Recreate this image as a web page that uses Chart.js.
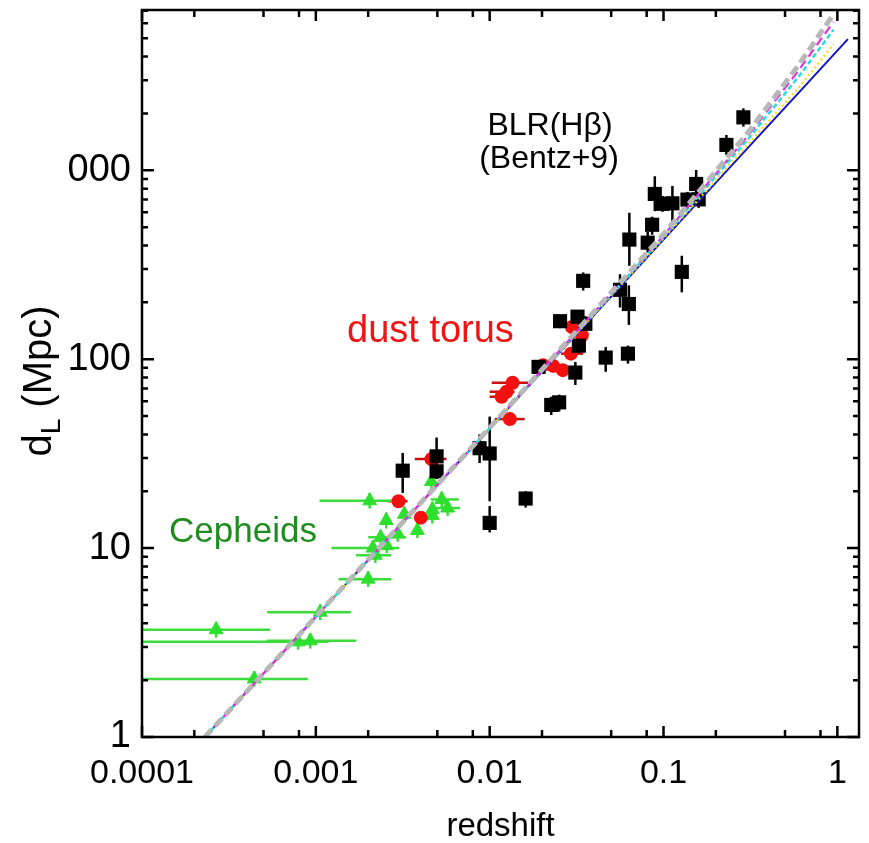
<!DOCTYPE html>
<html>
<head>
<meta charset="utf-8">
<script src="https://cdn.jsdelivr.net/npm/chart.js@4.4.1/dist/chart.umd.min.js"></script>
<style>
  body { margin: 0; background: #fff; }
  canvas { display: block; }
</style>
</head>
<body>
<canvas id="dlChart" width="869" height="843"></canvas>
<script>
// axis ticks
const xTickVals = [0.0001, 0.001, 0.01, 0.1, 1];
const xTickLabels = ['0.0001', '0.001', '0.01', '0.1', '1'];
const yTickVals = [1, 10, 100, 1000];
const yTickLabels = ['1', '10', '100', '000'];

// BLR (Hbeta) reverberation distances
const blrZ = [0.00316, 0.00495, 0.00495, 0.00875, 0.0100, 0.0100, 0.0161, 0.0191, 0.0226, 0.0251, 0.0254, 0.0320, 0.0355, 0.0326, 0.0311, 0.0345, 0.0465, 0.0562, 0.0624, 0.0636, 0.0632, 0.0811, 0.0860, 0.0891, 0.0987, 0.1125, 0.1274, 0.1373, 0.1541, 0.1593, 0.230, 0.288];
const blrD = [25.7, 30.6, 25.5, 33.8, 31.7, 13.6, 18.3, 91.1, 57.3, 59.1, 159, 168, 154, 118, 85.0, 260, 102, 233, 107, 430, 196, 414, 515, 750, 665, 669, 290, 700, 847, 702, 1363, 1908];
const blrDLo = [19.6, 26.2, 23.2, 28.2, 17.7, 12.1, 16.4, 85.8, 50.7, 52.8, 146, 153, 139, 107, 73.0, 231, 85.8, 188, 94.8, 312, 152, 367, 456, 608, 603, 539, 226, 633, 730, 633, 1208, 1705];
const blrDHi = [31.9, 38.5, 28.1, 40.0, 49.7, 16.7, 20.0, 96.8, 63.3, 64.9, 171, 182, 169, 131, 96.8, 288, 116, 282, 118, 596, 246, 472, 568, 930, 732, 827, 353, 769, 1004, 778, 1539, 2128];

// dust torus
const torusZ = [0.00299, 0.00402, 0.00462, 0.01172, 0.01251, 0.01354, 0.01307, 0.02025, 0.02318, 0.02633, 0.02935, 0.02973, 0.0339];
const torusD = [17.7, 14.5, 29.6, 63.3, 67.3, 75.0, 48.2, 93.0, 92.2, 87.5, 107, 148, 134];
const torusZLo = [0.00259, null, 0.00371, 0.0100, 0.0100, 0.01028, 0.0107, 0.01855, null, null, 0.02574, null, null];
const torusZHi = [0.00337, null, 0.00565, 0.01285, 0.0139, 0.0166, 0.0159, 0.02258, null, null, 0.0345, null, null];

// Cepheids
const cephZ = [0.000267, 0.000442, 0.000790, 0.000929, 0.00106, 0.00200, 0.00204, 0.00213, 0.00220, 0.00236, 0.00254, 0.00256, 0.00296, 0.00323, 0.00384, 0.00462, 0.00468, 0.00468, 0.00530, 0.00573];
const cephD = [3.70, 2.03, 3.19, 3.23, 4.58, 6.85, 17.8, 10.0, 9.17, 11.4, 14.0, 10.3, 11.9, 15.1, 12.4, 22.5, 16.0, 14.9, 18.1, 16.3];
const cephZLo = [0.00005, 0.00005, 0.00005, 0.000524, 0.000525, 0.00135, 0.00105, 0.00123, 0.00170, 0.00200, null, null, null, null, null, null, null, null, 0.00458, 0.00480];
const cephZHi = [0.000545, 0.000900, 0.00118, 0.00171, 0.00159, 0.00271, 0.00284, 0.00302, 0.00271, 0.00330, null, null, null, null, null, null, null, null, 0.00664, 0.00676];
const cephDLo = [3.36, 1.85, 2.90, 2.94, 4.16, 6.23, 16.2, 9.1, 8.34, 10.4, 12.7, 9.4, 10.8, 13.7, 11.3, 20.5, 14.5, 13.5, 16.5, 14.8];
const cephDHi = [4.07, 2.23, 3.51, 3.55, 5.04, 7.54, 19.6, 11.0, 10.1, 12.5, 15.4, 11.3, 13.1, 16.6, 13.6, 24.8, 17.6, 16.4, 19.9, 17.9];

// cosmological model curves
const modelZ = [0.00023, 0.01, 0.1, 0.3, 0.6, 0.95];
const blueZ = [0.00023, 0.01, 0.1, 0.3, 0.6, 1.15];
const blueD = [1, 43, 430, 1290, 2580, 4950];
const yellowD = [1, 43, 436, 1344, 2740, 4650];
const cyanD = [1, 43, 445, 1430, 3140, 5550];
const magentaD = [1, 43.2, 452, 1490, 3390, 6110];
const grayD = [1, 43.3, 459, 1550, 3620, 6700];

const FONT = '"Liberation Sans", Arial, Helvetica, sans-serif';

function pts(xs, ys) {
    return xs.map((v, i) => ({ x: v, y: ys[i] }));
}

function modelLine(xs, ys, color, width, dash) {
    return {
        data: pts(xs, ys),
        showLine: true,
        borderColor: color,
        borderWidth: width,
        borderDash: dash,
        pointRadius: 0,
        fill: false,
        order: 0
    };
}

// keep the plot box fixed: no extra room for tick label overhang
function fixBox(scale) {
    scale.paddingTop = 0;
    scale.paddingBottom = 0;
    scale.paddingLeft = 0;
    scale.paddingRight = 0;
}

// error bars, drawn under the markers
const errorBars = {
    id: 'errorBars',
    beforeDatasetsDraw(chart) {
        const { ctx, chartArea: a, scales: { x, y } } = chart;
        ctx.save();
        ctx.beginPath();
        ctx.rect(a.left, a.top, a.right - a.left, a.bottom - a.top);
        ctx.clip();
        function seg(x1, y1, x2, y2, color, w) {
            ctx.strokeStyle = color;
            ctx.lineWidth = w;
            ctx.beginPath();
            ctx.moveTo(x1, y1);
            ctx.lineTo(x2, y2);
            ctx.stroke();
        }
        // black: vertical
        blrZ.forEach((z, i) => {
            const px = x.getPixelForValue(z);
            seg(px, y.getPixelForValue(blrDLo[i]), px, y.getPixelForValue(blrDHi[i]), '#000', 2.5);
        });
        // red: horizontal
        torusZ.forEach((z, i) => {
            if (torusZLo[i] === null) return;
            const py = y.getPixelForValue(torusD[i]);
            seg(x.getPixelForValue(torusZLo[i]), py, x.getPixelForValue(torusZHi[i]), py, '#c81010', 2.5);
        });
        // green: both
        cephZ.forEach((z, i) => {
            const px = x.getPixelForValue(z);
            const py = y.getPixelForValue(cephD[i]);
            if (cephZLo[i] !== null) {
                seg(x.getPixelForValue(cephZLo[i]), py, x.getPixelForValue(cephZHi[i]), py, '#3ddc3d', 2.5);
            }
            seg(px, y.getPixelForValue(cephDLo[i]), px, y.getPixelForValue(cephDHi[i]), '#3ddc3d', 2.5);
        });
        ctx.restore();
    }
};

// frame, inward ticks and text labels
const frameAndText = {
    id: 'frameAndText',
    afterDraw(chart) {
        const { ctx, chartArea: a, scales: { x, y } } = chart;
        ctx.save();
        ctx.strokeStyle = '#000';
        ctx.lineWidth = 2.5;
        ctx.strokeRect(a.left, a.top, a.right - a.left, a.bottom - a.top);

        // x ticks: majors and 2,5,8
        for (let e = -4; e <= 0; e++) {
            [1, 2, 5, 8].forEach(m => {
                const v = m * Math.pow(10, e);
                if (v > x.max) return;
                const px = x.getPixelForValue(v);
                const len = m === 1 ? 11 : 7;
                ctx.beginPath();
                ctx.moveTo(px, a.bottom); ctx.lineTo(px, a.bottom - len);
                ctx.moveTo(px, a.top); ctx.lineTo(px, a.top + len);
                ctx.stroke();
            });
        }
        // y ticks: majors and all minors
        for (let e = 0; e <= 3; e++) {
            for (let m = 1; m <= 9; m++) {
                const v = m * Math.pow(10, e);
                if (v > y.max) continue;
                const py = y.getPixelForValue(v);
                const len = m === 1 ? 12 : 6;
                ctx.beginPath();
                ctx.moveTo(a.left, py); ctx.lineTo(a.left + len, py);
                ctx.moveTo(a.right, py); ctx.lineTo(a.right - len, py);
                ctx.stroke();
            }
        }

        // y axis title with subscript
        ctx.translate(37, 381);
        ctx.rotate(-Math.PI / 2);
        ctx.fillStyle = '#000';
        ctx.textBaseline = 'alphabetic';
        ctx.textAlign = 'left';
        const big = '40px ' + FONT, small = '28px ' + FONT;
        ctx.font = big; const w1 = ctx.measureText('d').width;
        ctx.font = small; const w2 = ctx.measureText('L').width;
        ctx.font = big; const w3 = ctx.measureText(' (Mpc)').width;
        let sx = -(w1 + w2 + w3) / 2;
        const base = 14;
        ctx.font = big; ctx.fillText('d', sx, base); sx += w1;
        ctx.font = small; ctx.fillText('L', sx, base + 9); sx += w2;
        ctx.font = big; ctx.fillText(' (Mpc)', sx, base);
        ctx.restore();

        // annotations
        ctx.save();
        ctx.textBaseline = 'alphabetic';
        ctx.fillStyle = '#000';
        ctx.font = '32px ' + FONT;
        ctx.textAlign = 'center';
        ctx.fillText('BLR(H\u03B2)', 550, 135);
        ctx.fillText('(Bentz+9)', 549, 168);
        ctx.textAlign = 'left';
        ctx.fillStyle = '#f21414';
        ctx.font = '38px ' + FONT;
        ctx.fillText('dust torus', 347, 342);
        ctx.fillStyle = '#1f8c1f';
        ctx.font = '35px ' + FONT;
        ctx.fillText('Cepheids', 169, 542);
        ctx.restore();
    }
};

const config = {
    type: 'scatter',
    data: {
        datasets: [
            // model curves on top
            modelLine(modelZ, grayD, '#b8b8b8', 5, [10, 5]),
            modelLine(modelZ, magentaD, '#e030e0', 2.2, [9, 5]),
            modelLine(modelZ, cyanD, '#28dcdc', 2.5, [5, 3]),
            modelLine(modelZ, yellowD, '#f0e000', 2.2, [2, 3]),
            modelLine(blueZ, blueD, '#1414d0', 2, []),
            {
                data: pts(cephZ, cephD),
                pointStyle: 'triangle',
                pointRadius: 8,
                backgroundColor: '#2ee02e',
                borderColor: '#2ee02e',
                borderWidth: 1,
                order: 3
            },
            {
                data: pts(torusZ, torusD),
                pointStyle: 'circle',
                pointRadius: 7,
                backgroundColor: '#f21010',
                borderColor: '#f21010',
                borderWidth: 0,
                order: 2
            },
            {
                data: pts(blrZ, blrD),
                pointStyle: 'rect',
                pointRadius: 10,
                backgroundColor: '#000',
                borderColor: '#000',
                borderWidth: 0,
                order: 1
            }
        ]
    },
    options: {
        responsive: false,
        devicePixelRatio: 1,
        animation: false,
        layout: { padding: { top: 6, right: 3, left: 0, bottom: 0 } },
        plugins: { legend: { display: false }, tooltip: { enabled: false } },
        scales: {
            x: {
                type: 'logarithmic',
                min: 0.0001,
                max: 1.332,
                grid: { display: false, drawTicks: false },
                border: { display: false },
                afterBuildTicks: (scale) => { scale.ticks = xTickVals.map(v => ({ value: v })); },
                afterFit: (scale) => { scale.height = 106; fixBox(scale); },
                ticks: {
                    autoSkip: false,
                    maxRotation: 0,
                    padding: 20,
                    color: '#000',
                    font: { family: FONT, size: 34, lineHeight: 1 },
                    callback: (v, i) => xTickLabels[i]
                },
                title: {
                    display: true,
                    text: 'redshift',
                    color: '#000',
                    padding: { top: 0, bottom: 0 },
                    font: { family: FONT, size: 33, lineHeight: 1 }
                }
            },
            y: {
                type: 'logarithmic',
                min: 1,
                max: 7060,
                grid: { display: false, drawTicks: false },
                border: { display: false },
                afterBuildTicks: (scale) => { scale.ticks = yTickVals.map(v => ({ value: v })); },
                afterFit: (scale) => { scale.width = 142; fixBox(scale); },
                ticks: {
                    autoSkip: false,
                    padding: 11,
                    color: '#000',
                    font: { family: FONT, size: 38, lineHeight: 1 },
                    callback: (v, i) => yTickLabels[i]
                }
            }
        }
    },
    plugins: [errorBars, frameAndText]
};

const dlChart = new Chart(document.getElementById('dlChart'), config);
</script>
</body>
</html>
